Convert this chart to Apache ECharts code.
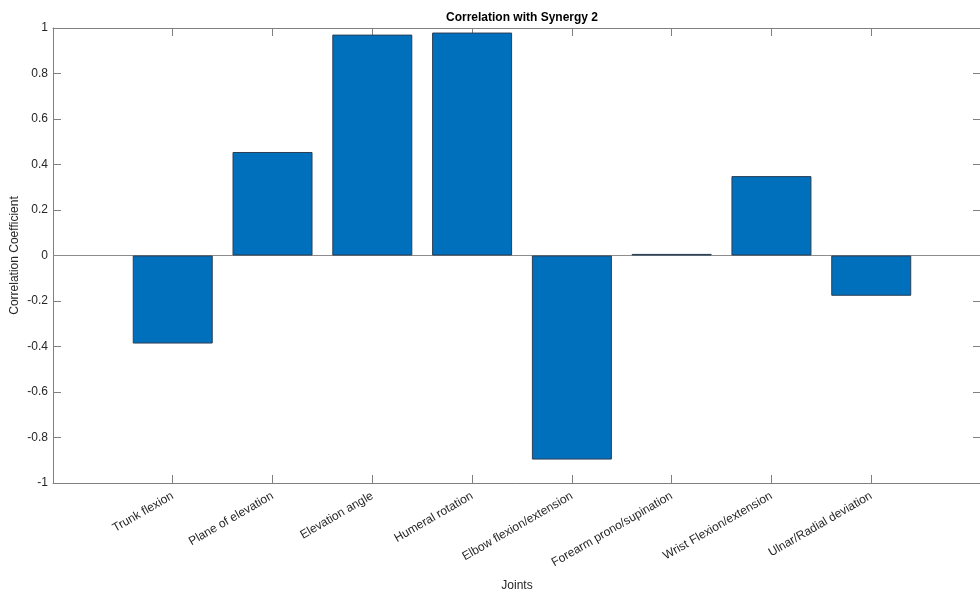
<!DOCTYPE html>
<html>
<head>
<meta charset="utf-8">
<script src="https://cdn.jsdelivr.net/npm/echarts@6/dist/echarts.min.js"></script>
<style>
  html, body { margin: 0; padding: 0; background: #fff; }
  #chart { width: 980px; height: 594px; }
</style>
</head>
<body>
<div id="chart"></div>
<script>
// Joint names, one bar per joint at x = 1..8
const joints = [
  'Trunk flexion',
  'Plane of elevation',
  'Elevation angle',
  'Humeral rotation',
  'Elbow flexion/extension',
  'Forearm prono/supination',
  'Wrist Flexion/extension',
  'Ulnar/Radial deviation'
];
// Correlation of each joint with synergy 2
const correlation = [-0.387, 0.455, 0.971, 0.980, -0.897, 0.007, 0.349, -0.177];
// Y tick values
const yTicks = [-1, -0.8, -0.6, -0.4, -0.2, 0, 0.2, 0.4, 0.6, 0.8, 1];

const xPositions = joints.map((_, i) => i + 1);
const barData = correlation.map((v, i) => [xPositions[i], v]);

const axisGray = '#808080';
const textGray = '#262626';
const font = 'Liberation Sans, Arial, Helvetica, sans-serif';

const chart = echarts.init(document.getElementById('chart'), null, { renderer: 'canvas' });

chart.setOption({
  animation: false,
  backgroundColor: '#ffffff',
  title: {
    text: 'Correlation with Synergy 2',
    left: 517,
    textAlign: 'center',
    top: 7,
    textStyle: { fontFamily: font, fontSize: 12, fontWeight: 'bold', color: '#000' }
  },
  grid: { left: 53, top: 28, width: 928, height: 455, containLabel: false, outerBoundsMode: 'none' },
  xAxis: [
    {
      type: 'value',
      position: 'bottom',
      min: -0.2,
      max: 9.1,
      name: 'Joints',
      nameLocation: 'middle',
      nameGap: 97,
      nameMoveOverlap: false,
      nameTextStyle: { fontFamily: font, fontSize: 12, color: textGray },
      splitLine: { show: false },
      axisLine: { show: true, onZero: false, lineStyle: { color: axisGray, width: 1 } },
      axisTick: { show: true, inside: true, length: 8, customValues: xPositions, lineStyle: { color: axisGray } },
      axisLabel: {
        customValues: xPositions,
        rotate: 30,
        margin: 12,
        fontFamily: font,
        fontSize: 12,
        color: textGray,
        formatter: v => joints[Math.round(v) - 1] || ''
      }
    },
    {
      type: 'value',
      position: 'top',
      min: -0.2,
      max: 9.1,
      splitLine: { show: false },
      axisLine: { show: true, onZero: false, lineStyle: { color: axisGray, width: 1 } },
      axisTick: { show: true, inside: true, length: 8, customValues: xPositions, lineStyle: { color: axisGray } },
      axisLabel: { show: false }
    }
  ],
  yAxis: [
    {
      type: 'value',
      position: 'left',
      min: -1,
      max: 1,
      interval: 0.2,
      name: 'Correlation Coefficient',
      nameLocation: 'middle',
      nameGap: 32,
      nameMoveOverlap: false,
      nameTextStyle: { fontFamily: font, fontSize: 12, color: textGray },
      splitLine: { show: false },
      axisLine: { show: true, onZero: false, lineStyle: { color: axisGray, width: 1 } },
      axisTick: { show: true, inside: true, length: 8, customValues: yTicks, lineStyle: { color: axisGray } },
      axisLabel: {
        customValues: yTicks,
        margin: 5,
        fontFamily: font,
        fontSize: 12,
        color: textGray,
        formatter: v => String(Math.round(v * 10) / 10)
      }
    },
    {
      type: 'value',
      position: 'right',
      min: -1,
      max: 1,
      interval: 0.2,
      splitLine: { show: false },
      axisLine: { show: true, onZero: false, lineStyle: { color: axisGray, width: 1 } },
      axisTick: { show: true, inside: true, length: 8, lineStyle: { color: axisGray } },
      axisLabel: { show: false }
    }
  ],
  series: [
    {
      type: 'bar',
      xAxisIndex: 0,
      yAxisIndex: 0,
      data: barData,
      barWidth: 80,
      itemStyle: { color: '#0070bd', borderColor: '#2b3f55', borderWidth: 1 },
      markLine: {
        silent: true,
        symbol: 'none',
        label: { show: false },
        lineStyle: { color: '#8c8c8c', width: 1, type: 'solid' },
        data: [{ yAxis: 0 }],
        z: 1
      }
    }
  ]
});
</script>
</body>
</html>
